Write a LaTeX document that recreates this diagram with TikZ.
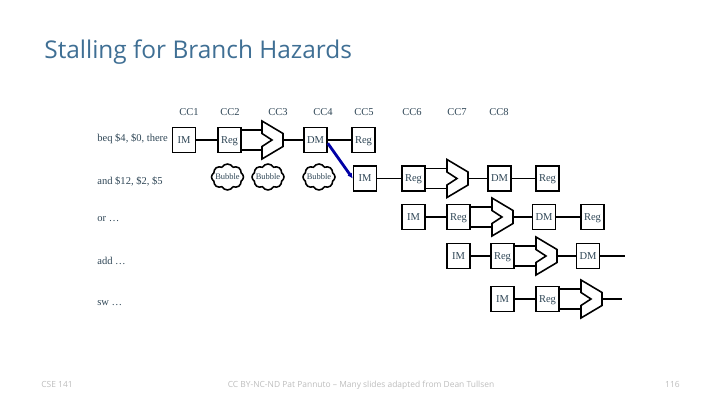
\documentclass[tikz,border=0pt]{standalone}
\usepackage{fontspec}
\setmainfont{Liberation Serif}
\newfontfamily\slidefont{Open Sans}
\usetikzlibrary{shapes.symbols,arrows.meta,positioning}

\definecolor{slideblue}{HTML}{3F6F94}
\definecolor{slideink}{HTML}{2F4656}
\definecolor{footgray}{HTML}{BDBDBD}

\tikzset{
    alushape/.pic={
        \draw[pipe line,fill=white] (-10,-19) -- (11,-6.5) -- (11,6.5) -- (-10,19)
            -- (-10,6.5) -- (0,0) -- (-10,-6.5) -- cycle;
        \coordinate (-in1) at (-10,-10);
        \coordinate (-in2) at (-10,10);
        \coordinate (-out) at (11,0);
    }
}

\begin{document}
\begin{tikzpicture}[
    x=0.02cm, y=-0.02cm,
    pipe line/.style={line width=0.9pt, draw=black},
    stage/.style={
        rectangle, draw=black, line width=0.9pt, fill=white,
        minimum width=0.46cm, minimum height=0.5cm, inner sep=0pt,
        text height=4pt, text depth=0.5pt,
        font=\fontsize{6}{7}\selectfont, text=slideink
    },
    bubble/.style={
        cloud, cloud puffs=8, cloud puff arc=120, aspect=1.25,
        draw=black, line width=0.9pt, fill=white,
        minimum width=0.64cm, minimum height=0.52cm, inner sep=0pt,
        font=\fontsize{4.8}{6}\selectfont, text=slideink
    },
    cycle label/.style={font=\fontsize{6}{7}\selectfont, text=slideink, inner sep=0pt},
    instr label/.style={anchor=west, font=\fontsize{6}{7}\selectfont, text=slideink, inner sep=0pt},
    foot label/.style={
        text height=4pt, text depth=1pt,
        font=\slidefont\fontsize{4.8}{6}\selectfont, text=footgray, inner sep=0pt
    }
]
\useasboundingbox (0,0) rectangle (720,405);

% Title
\node[anchor=west, inner sep=0pt, text=slideblue, font=\slidefont\fontsize{13.9}{16}\selectfont] (title) at (44,52) {Stalling for Branch Hazards};

% Clock cycles
\node[cycle label] (cc1) at (189,112) {CC1};
\node[cycle label] (cc2) at (230,112) {CC2};
\node[cycle label] (cc3) at (278,112) {CC3};
\node[cycle label] (cc4) at (323,112) {CC4};
\node[cycle label] (cc5) at (364,112) {CC5};
\node[cycle label] (cc6) at (412,112) {CC6};
\node[cycle label] (cc7) at (457,112) {CC7};
\node[cycle label] (cc8) at (499,112) {CC8};

% Instructions
\node[instr label] (beq) at (97,139) {beq \$4, \$0, there};
\node[instr label] (and) at (97,181) {and \$12, \$2, \$5};
\node[instr label] (or) at (97,219) {or \dots};
\node[instr label] (add) at (97,261) {add \dots};
\node[instr label] (sw) at (97,303) {sw \dots};

% First row
\node[stage] (im1) at (184,140) {IM};
\node[stage] (reg1) at (229.5,140) {Reg};
\pic (alu1) at (272,140) {alushape};
\node[stage] (dm1) at (315.5,140) {DM};
\node[stage] (wb1) at (363.5,140) {Reg};
\draw[pipe line] (im1) -- (reg1);
\draw[pipe line] (reg1.east |- alu1-in1) -- (alu1-in1);
\draw[pipe line] (reg1.east |- alu1-in2) -- (alu1-in2);
\draw[pipe line] (alu1-out) -- (dm1);
\draw[pipe line] (dm1) -- (wb1);

% Stalls
\node[bubble] (bub1) at (227.5,177) {\makebox[0pt]{Bubble}};
\node[bubble] (bub2) at (268,177) {\makebox[0pt]{Bubble}};
\node[bubble] (bub3) at (319,177) {\makebox[0pt]{Bubble}};

% Second row
\node[stage] (im2) at (365,178.5) {IM};
\node[stage] (reg2) at (413.5,178.5) {Reg};
\pic (alu2) at (457,178.5) {alushape};
\node[stage] (dm2) at (499.5,178.5) {DM};
\node[stage] (wb2) at (547.5,178.5) {Reg};
\draw[pipe line] (im2) -- (reg2);
\draw[pipe line] (reg2.east |- alu2-in1) -- (alu2-in1);
\draw[pipe line] (reg2.east |- alu2-in2) -- (alu2-in2);
\draw[pipe line] (alu2-out) -- (dm2);
\draw[pipe line] (dm2) -- (wb2);

% Third row
\node[stage] (im3) at (413.5,217) {IM};
\node[stage] (reg3) at (458.5,217) {Reg};
\pic (alu3) at (502,217) {alushape};
\node[stage] (dm3) at (544,217) {DM};
\node[stage] (wb3) at (592.5,217) {Reg};
\draw[pipe line] (im3) -- (reg3);
\draw[pipe line] (reg3.east |- alu3-in1) -- (alu3-in1);
\draw[pipe line] (reg3.east |- alu3-in2) -- (alu3-in2);
\draw[pipe line] (alu3-out) -- (dm3);
\draw[pipe line] (dm3) -- (wb3);

% Fourth row
\node[stage] (im4) at (458.5,256) {IM};
\node[stage] (reg4) at (502.5,256) {Reg};
\pic (alu4) at (546,256) {alushape};
\node[stage] (dm4) at (588,256) {DM};
\coordinate (end4) at (625,256);
\draw[pipe line] (im4) -- (reg4);
\draw[pipe line] (reg4.east |- alu4-in1) -- (alu4-in1);
\draw[pipe line] (reg4.east |- alu4-in2) -- (alu4-in2);
\draw[pipe line] (alu4-out) -- (dm4);
\draw[pipe line] (dm4) -- (end4);

% Fifth row
\node[stage] (im5) at (502.5,299) {IM};
\node[stage] (reg5) at (547.5,299) {Reg};
\pic (alu5) at (591,299) {alushape};
\coordinate (end5) at (622,299);
\draw[pipe line] (im5) -- (reg5);
\draw[pipe line] (reg5.east |- alu5-in1) -- (alu5-in1);
\draw[pipe line] (reg5.east |- alu5-in2) -- (alu5-in2);
\draw[pipe line] (alu5-out) -- (end5);

% Branch resolved
\draw[-{Latex[length=3pt,width=3pt]}, line width=1.6pt, draw=blue!65!black] (dm1.-15) -- (im2.west);

% Footer
\node[foot label, anchor=west] (course) at (41,385) {CSE 141};
\node[foot label] (credit) at (361,385) {CC BY-NC-ND Pat Pannuto – Many slides adapted from Dean Tullsen};
\node[foot label, anchor=east] (page) at (680,385) {116};

\end{tikzpicture}
\end{document}
